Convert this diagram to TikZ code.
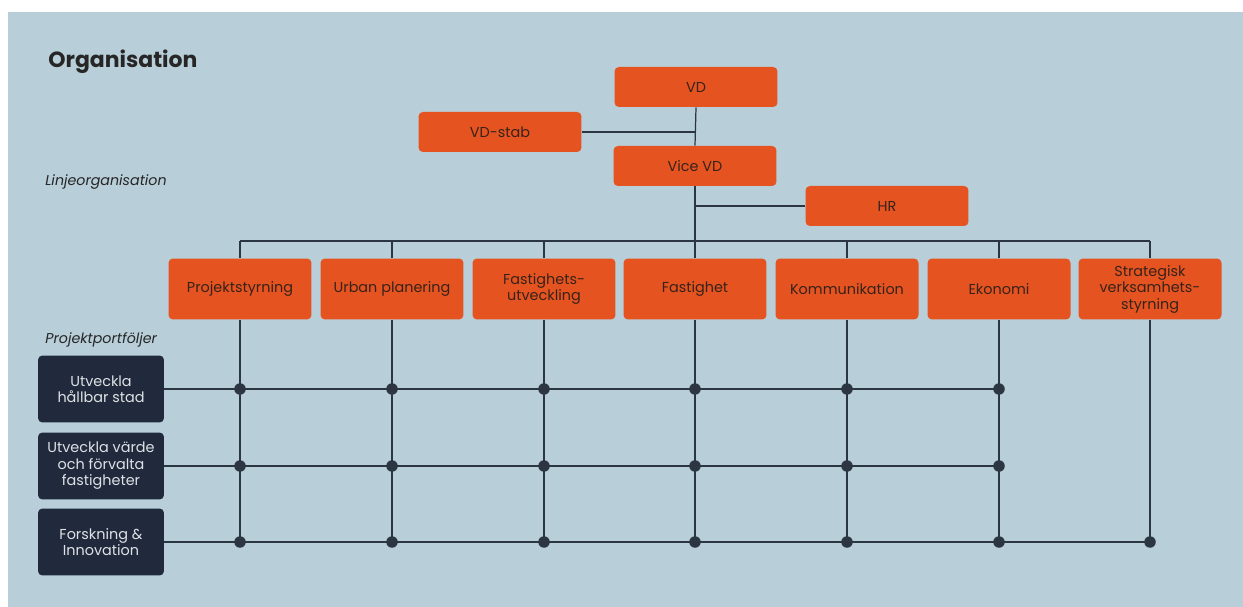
\documentclass[tikz,border=0pt]{standalone}
\usepackage{fontspec}
\setmainfont{Poppins}
\usetikzlibrary{positioning,backgrounds}
\definecolor{paneblue}{RGB}{184,206,216}
\definecolor{boxorange}{RGB}{229,84,32}
\definecolor{boxtext}{RGB}{55,34,26}
\definecolor{portnavy}{RGB}{32,42,60}
\definecolor{porttext}{RGB}{222,226,230}
\definecolor{linegray}{RGB}{44,54,66}
\tikzset{
	orgbox/.style={rectangle, rounded corners=2.5pt, fill=boxorange, text=boxtext, align=center, inner sep=2pt, font=\fontsize{8.2}{9.4}\selectfont},
	topbox/.style={orgbox, minimum width=3.26cm, minimum height=0.8cm},
	unitbox/.style={orgbox, minimum width=2.86cm, minimum height=1.22cm},
	portbox/.style={orgbox, fill=portnavy, text=porttext, minimum width=2.52cm, minimum height=1.34cm},
	link/.style={draw=linegray, line width=0.7pt},
	joint/.style={circle, fill=linegray, inner sep=0pt, minimum size=0.23cm},
	caption/.style={anchor=base west, inner sep=0pt, text=black!85},
}

\begin{document}
\begin{tikzpicture}[x=0.02cm, y=-0.02cm]
	\useasboundingbox (0,0) rectangle (1243,607);
	% headings
	\node[caption, font=\bfseries\fontsize{12.5}{14}\selectfont] (title) at (48,68) {Organisation};
	\node[caption, font=\itshape\fontsize{8.1}{9}\selectfont] (linje) at (45,186) {Linjeorganisation};
	\node[caption, font=\itshape\fontsize{8.1}{9}\selectfont] (portf) at (45,344) {Projektportföljer};
	% top of the line organisation
	\node[topbox] (vd) at (696,87) {VD};
	\node[topbox] (stab) at (500,132) {VD-stab};
	\node[topbox] (vice) at (695,166) {Vice VD};
	\node[topbox] (hr) at (887,206) {HR};
	\coordinate (bus) at (695,241);
	% units
	\foreach \n/\x/\txt in {1/240/Projektstyrning, 2/392/Urban planering, 3/544/{Fastighets-\\utveckling},
		4/695/Fastighet, 5/847/Kommunikation, 6/999/Ekonomi, 7/1150/{Strategisk\\verksamhets-\\styrning}}
		\node[unitbox] (col\n) at (\x,289) {\txt};
	% portfolios
	\node[portbox] (port1) at (101,389) {Utveckla\\hållbar stad};
	\node[portbox] (port2) at (101,466) {Utveckla värde\\och förvalta\\fastigheter};
	\node[portbox] (port3) at (101,542) {Forskning \&\\Innovation};
	% joints
	\foreach \r in {1,2}
		\foreach \c in {1,...,6}
			\node[joint] (j\r\c) at (col\c |- port\r) {};
	\foreach \c in {1,...,7}
		\node[joint] (j3\c) at (col\c |- port3) {};
	\begin{scope}[on background layer]
		\fill[paneblue] (8,12) rectangle (1243,607);
		\draw[link] (vd.south) -- (vice.north);
		\draw[link] (stab.east) -- (vd.south |- stab.east);
		\draw[link] (vice.south) -- (bus);
		\draw[link] (hr.west) -- (vice.south |- hr.west);
		\draw[link] (col1.north |- bus) -- (col7.north |- bus);
		\foreach \c in {1,...,7} {
			\draw[link] (col\c.north) -- (col\c.north |- bus);
			\draw[link] (col\c.south) -- (j3\c.center);}
		\draw[link] (port1.east) -- (j16.center);
		\draw[link] (port2.east) -- (j26.center);
		\draw[link] (port3.east) -- (j37.center);
	\end{scope}
\end{tikzpicture}
\end{document}
